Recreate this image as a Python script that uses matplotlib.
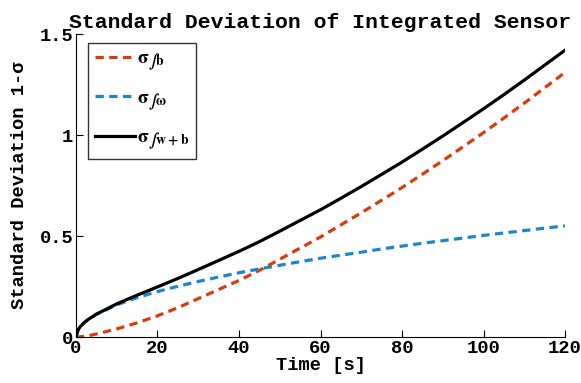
#Standard deviation of integrated sensor signals
import numpy as np
import matplotlib.pyplot as plt

#time samples [s]
t = [0, 0.5, 1, 2, 3, 5, 10, 15, 20, 25, 30, 35, 40, 45, 50, 55, 60,
     65, 70, 75, 80, 85, 90, 95, 100, 105, 110, 115, 120]

#bias term
sig_b = [0, 0, 0.001, 0.003, 0.006, 0.015, 0.04, 0.07, 0.105, 0.145, 0.19, 0.235, 0.28,
         0.33, 0.385, 0.44, 0.495, 0.555, 0.615, 0.677, 0.74, 0.806, 0.873, 0.942,
         1.012, 1.084, 1.158, 1.234, 1.31]
#random walk term
sig_w = [0, 0.035, 0.05, 0.071, 0.087, 0.112, 0.159, 0.195, 0.225, 0.251, 0.275, 0.297,
         0.318, 0.337, 0.355, 0.373, 0.39, 0.405, 0.42, 0.436, 0.45, 0.464, 0.477, 0.49,
         0.503, 0.515, 0.527, 0.539, 0.55]
#combined
sig_wb = [0, 0.035, 0.05, 0.071, 0.087, 0.113, 0.164, 0.207, 0.248, 0.29, 0.334, 0.379,
          0.424, 0.472, 0.524, 0.577, 0.63, 0.687, 0.745, 0.805, 0.866, 0.93, 0.995,
          1.062, 1.13, 1.2, 1.272, 1.346, 1.42]

labels = [r'$\mathrm{\sigma}_{\int\mathbf{b}}$', r'$\mathrm{\sigma}_{\int\mathrm{\omega}}$',
          r'$\mathrm{\sigma}_{\int\mathbf{w+b}}$']

plt.rcParams['font.family'] = 'Liberation Mono'
plt.rcParams['font.weight'] = 'bold'
plt.rcParams['mathtext.fontset'] = 'stix'

fig = plt.figure(figsize=(5.81, 3.83), dpi=100)
ax = fig.add_axes([0.1308, 0.1201, 0.8417, 0.791])

ax.plot(t, sig_b, color='#DA3B0B', lw=2.3, dashes=(2.6, 1.7), label=labels[0])
ax.plot(t, sig_w, color='#1A86CB', lw=2.3, dashes=(2.6, 1.7), label=labels[1])
ax.plot(t, sig_wb, color='black', lw=2.3, label=labels[2])

ax.set_xlim(0, 120)
ax.set_ylim(0, 1.5)
ax.set_xticks([0, 20, 40, 60, 80, 100, 120])
ax.set_yticks([0, 0.5, 1, 1.5])
ax.set_yticklabels(['0', '0.5', '1', '1.5'])

ax.spines['top'].set_visible(False)
ax.spines['right'].set_visible(False)
ax.tick_params(direction='in', length=5, labelsize=13.5, pad=2)

ax.set_xlabel('Time [s]', fontsize=13.5, fontweight='bold', labelpad=0)
ax.set_ylabel('Standard Deviation 1-σ', fontsize=13.5, fontweight='bold', labelpad=8)
ax.set_title('Standard Deviation of Integrated Sensor', fontsize=15.4, fontweight='bold', pad=4)

leg = ax.legend(loc='upper left', bbox_to_anchor=(0.025, 0.97), fontsize=14, fancybox=False,
                edgecolor='black', handlelength=2.05, handletextpad=0.1, borderpad=0.35,
                labelspacing=0.85, borderaxespad=0)
leg.get_frame().set_linewidth(1.0)

plt.savefig('out.png', dpi=100)
